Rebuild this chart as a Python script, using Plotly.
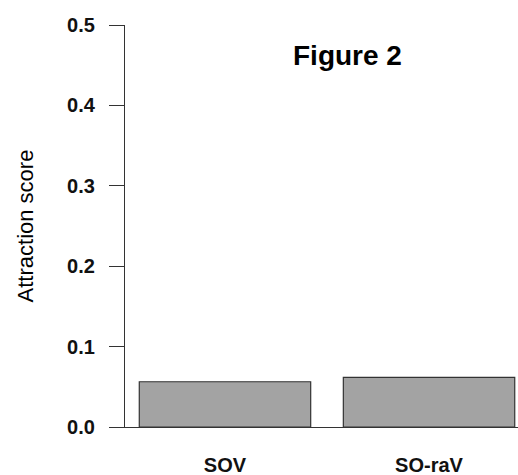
import plotly.graph_objects as go

categories = ["SOV", "SO-raV"]
scores = [0.0563, 0.0617]
y_ticks = [0.0, 0.1, 0.2, 0.3, 0.4, 0.5]
y_tick_labels = ["0.0", "0.1", "0.2", "0.3", "0.4", "0.5"]

FONT = "Liberation Sans, Arial, sans-serif"
AX = "#333333"

fig = go.Figure(
    go.Bar(
        x=categories,
        y=scores,
        width=0.84,
        marker=dict(color="#A3A3A3", line=dict(color="#333333", width=1.2)),
        hoverinfo="skip",
    )
)

fig.update_layout(
    width=518,
    height=475,
    margin=dict(l=125, r=0, t=25, b=48),
    paper_bgcolor="white",
    plot_bgcolor="white",
    showlegend=False,
    font=dict(family=FONT, color="#111111"),
    xaxis=dict(
        type="category",
        range=[-0.49, 1.436],
        showline=True,
        linecolor=AX,
        linewidth=1.2,
        showgrid=False,
        zeroline=False,
        ticks="",
        tickfont=dict(family=FONT, size=20, color="#111111", weight="bold"),
        ticklabelstandoff=20,
    ),
    yaxis=dict(
        range=[0, 0.5],
        tickvals=y_ticks,
        ticktext=[f"<b>{t}</b>" for t in y_tick_labels],
        showline=True,
        linecolor=AX,
        linewidth=1.2,
        ticks="outside",
        ticklen=15,
        tickwidth=1.2,
        tickcolor=AX,
        showgrid=False,
        zeroline=False,
        tickfont=dict(family=FONT, size=20, color="#111111"),
        ticklabelstandoff=10,
        title=dict(text="Attraction score", font=dict(family=FONT, size=22, color="#000000"), standoff=27),
    ),
    annotations=[
        dict(
            text="<b>Figure 2</b>",
            xref="paper", yref="paper",
            x=0.565, y=0.925,
            xanchor="center", yanchor="middle",
            showarrow=False,
            font=dict(family=FONT, size=28, color="#000000"),
        )
    ],
)

fig.write_html("out.html")
